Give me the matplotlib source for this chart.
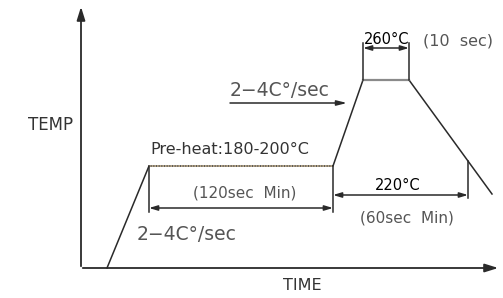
import matplotlib.pyplot as plt

# reflow profile (diagram units: x = time, y = temperature)
profile_time = [107, 149, 333, 363, 409, 492]
profile_temp = [30, 132, 132, 218, 218, 104]

label_temp_axis = "TEMP"
label_time_axis = "TIME"
label_preheat = "Pre-heat:180-200\u00b0C"
label_rate = "2\u22124C\u00b0/sec"
label_peak = "260\u00b0C"
label_peak_time = "(10  sec)"
label_reflow = "220\u00b0C"
label_reflow_time = "(60sec  Min)"
label_preheat_time = "(120sec  Min)"

plt.rcParams['font.family'] = ['DejaVu Sans']

fig = plt.figure(figsize=(5.03, 2.98), dpi=100)
ax = fig.add_axes([0, 0, 1, 1])
ax.set_xlim(0, 503)
ax.set_ylim(0, 298)
ax.axis('off')

dark = '#2a2a2a'
grey = '#555555'

# axes with arrows
ax.annotate('', xy=(81, 294), xytext=(81, 29),
            arrowprops=dict(arrowstyle='-|>,head_length=0.8,head_width=0.25', color=dark, lw=1.3))
ax.annotate('', xy=(501, 30), xytext=(80, 30),
            arrowprops=dict(arrowstyle='-|>,head_length=0.8,head_width=0.25', color=dark, lw=1.3))
ax.text(51, 173, label_temp_axis, fontsize=12, color='#333333', ha='center', va='center')
ax.text(302, 13, label_time_axis, fontsize=11.5, color='#333333', ha='center', va='center')

# profile line
ax.plot(profile_time, profile_temp, color=dark, lw=1.1)
ax.plot(profile_time[1:3], profile_temp[1:3], color='#c9b48f', lw=1.2, ls=(0, (1, 0.6)))
ax.plot(profile_time[3:5], profile_temp[3:5], color='#8a8a8a', lw=1.6)

# extension lines
ext_kw = dict(color=dark, lw=1.1)
ax.plot([profile_time[1]] * 2, [profile_temp[1], 86], **ext_kw)
ax.plot([profile_time[2]] * 2, [profile_temp[2], 86], **ext_kw)
ax.plot([profile_time[3]] * 2, [profile_temp[3], 255], **ext_kw)
ax.plot([profile_time[4]] * 2, [profile_temp[4], 255], **ext_kw)
ax.plot([468, 468], [137, 100], **ext_kw)

# dimension arrows
dim = dict(arrowstyle='<|-|>,head_length=0.5,head_width=0.15', color=dark, lw=1.1,
           shrinkA=0, shrinkB=0)
ax.annotate('', xy=(profile_time[1], 90), xytext=(profile_time[2], 90), arrowprops=dim)
ax.annotate('', xy=(profile_time[2], 103), xytext=(468, 103), arrowprops=dim)
ax.annotate('', xy=(profile_time[3], 250), xytext=(profile_time[4], 250), arrowprops=dim)

# ramp arrow
ax.annotate('', xy=(347, 195), xytext=(230, 195),
            arrowprops=dict(arrowstyle='-|>,head_length=0.6,head_width=0.15', color=dark, lw=1.1,
                            shrinkA=0, shrinkB=0))

# labels
ax.text(230, 208, label_rate, fontsize=13.5, color=grey, ha='left', va='center')
ax.text(137, 63, label_rate, fontsize=13.5, color=grey, ha='left', va='center')
ax.text(150, 149, label_preheat, fontsize=11.5, color='#333333', ha='left', va='center')
ax.text(245, 105, label_preheat_time, fontsize=11, color=grey, ha='center', va='center')
ax.text(398, 113, label_reflow, fontsize=10.5, color='black', ha='center', va='center')
ax.text(407, 80, label_reflow_time, fontsize=11, color=grey, ha='center', va='center')
ax.text(387, 258, label_peak, fontsize=10.5, color='black', ha='center', va='center')
ax.text(458, 257, label_peak_time, fontsize=11.5, color=grey, ha='center', va='center')

fig.savefig('out.png', dpi=100)
